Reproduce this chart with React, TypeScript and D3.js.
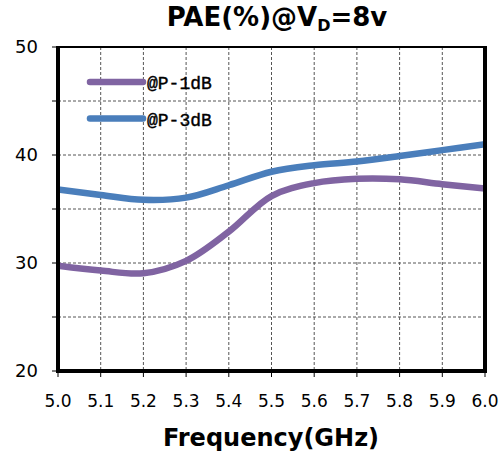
import React from "react";
import * as d3 from "d3";

// Frequency sweep (GHz) and PAE values (%) for the two compression points
const freqs = [5.0, 5.1, 5.2, 5.3, 5.4, 5.5, 5.6, 5.7, 5.8, 5.9, 6.0];
const paeP1dB = [29.75, 29.3, 29.05, 30.2, 32.9, 36.2, 37.4, 37.8, 37.75, 37.3, 36.9];
const paeP3dB = [36.8, 36.3, 35.85, 36.05, 37.2, 38.45, 39.05, 39.4, 39.9, 40.45, 41.0];
const seriesNames = ["@P-1dB", "@P-3dB"];
const seriesColors = ["#8064A2", "#4A7EBB"];
const xTicks = [5.0, 5.1, 5.2, 5.3, 5.4, 5.5, 5.6, 5.7, 5.8, 5.9, 6.0];
const yTickLabels = [20, 30, 40, 50];
const yGrid = [25, 30, 35, 40, 45];

const W = 502;
const H = 454;
const M = { left: 58, right: 485, top: 47, bottom: 371 };

export default function App() {
  const x = d3.scaleLinear().domain([5.0, 6.0]).range([M.left, M.right]);
  const y = d3.scaleLinear().domain([20, 50]).range([M.bottom, M.top]);

  const line = d3
    .line<number>()
    .x((_, i) => x(freqs[i]))
    .y((d) => y(d))
    .curve(d3.curveCatmullRom.alpha(0.5));

  const series = [paeP1dB, paeP3dB];
  const yTicksAll = d3.range(20, 50.01, 5);

  return (
    <svg
      width={W}
      height={H}
      style={{ position: "absolute", left: 0, top: 0, background: "#fff" }}
      fontFamily="'DejaVu Sans', Verdana, sans-serif"
    >
      <defs>
        <clipPath id="plot">
          <rect x={M.left} y={M.top} width={M.right - M.left} height={M.bottom - M.top} />
        </clipPath>
      </defs>

      {/* title */}
      <text x={277} y={26} textAnchor="middle" fontWeight="bold" fontSize={26} fill="#000">
        PAE(%)@V
        <tspan fontSize={16} dy={5}>D</tspan>
        <tspan dy={-5}>=8v</tspan>
      </text>

      {/* dashed grid */}
      <g stroke="#555" strokeWidth={1} strokeDasharray="3,2">
        {xTicks.slice(1, -1).map((t) => (
          <line key={"gx" + t} x1={x(t)} x2={x(t)} y1={M.top} y2={M.bottom} />
        ))}
        {yGrid.map((t) => (
          <line key={"gy" + t} x1={M.left} x2={M.right} y1={y(t)} y2={y(t)} />
        ))}
      </g>

      {/* curves */}
      <g clipPath="url(#plot)" fill="none" strokeWidth={6.5} strokeLinejoin="round">
        {series.map((s, i) => (
          <path key={i} d={line(s) || ""} stroke={seriesColors[i]} />
        ))}
      </g>

      {/* frame */}
      <line x1={M.left} x2={M.right + 2} y1={M.top} y2={M.top} stroke="#000" strokeWidth={2} />
      <line x1={M.right} x2={M.right} y1={M.top - 1} y2={M.bottom + 2} stroke="#000" strokeWidth={4} />
      <line x1={M.left} x2={M.left} y1={M.top - 1} y2={M.bottom + 2} stroke="#000" strokeWidth={4} />
      <line x1={M.left - 2} x2={M.right + 2} y1={M.bottom} y2={M.bottom} stroke="#000" strokeWidth={4} />

      {/* ticks */}
      <g stroke="#000" strokeWidth={1}>
        {yTicksAll.map((t) => (
          <line key={"yt" + t} x1={M.left - 6} x2={M.left} y1={y(t)} y2={y(t)} />
        ))}
        {xTicks.map((t) => (
          <line key={"xt" + t} x1={x(t)} x2={x(t)} y1={M.bottom} y2={M.bottom + 6} />
        ))}
      </g>
      {yTickLabels.map((t) => (
        <text key={"yl" + t} x={38} y={y(t) + 6} textAnchor="end" fontSize={18} fill="#000">
          {t}
        </text>
      ))}
      {xTicks.map((t) => (
        <text key={"xl" + t} x={x(t)} y={407} textAnchor="middle" fontSize={17} fill="#000">
          {t.toFixed(1)}
        </text>
      ))}

      {/* axis title */}
      <text x={271} y={446} textAnchor="middle" fontWeight="bold" fontSize={24} fill="#000">
        Frequency(GHz)
      </text>

      {/* legend */}
      {seriesNames.map((n, i) => (
        <g key={n}>
          <line
            x1={90}
            x2={143}
            y1={82 + i * 36.5}
            y2={82 + i * 36.5}
            stroke={seriesColors[i]}
            strokeWidth={6.5}
            strokeLinecap="round"
          />
          <text
            x={147}
            y={89 + i * 36.5}
            fontFamily="'Liberation Mono', monospace"
            fontSize={18}
            stroke="#000"
            strokeWidth={0.4}
            fill="#000"
          >
            {n}
          </text>
        </g>
      ))}
    </svg>
  );
}
